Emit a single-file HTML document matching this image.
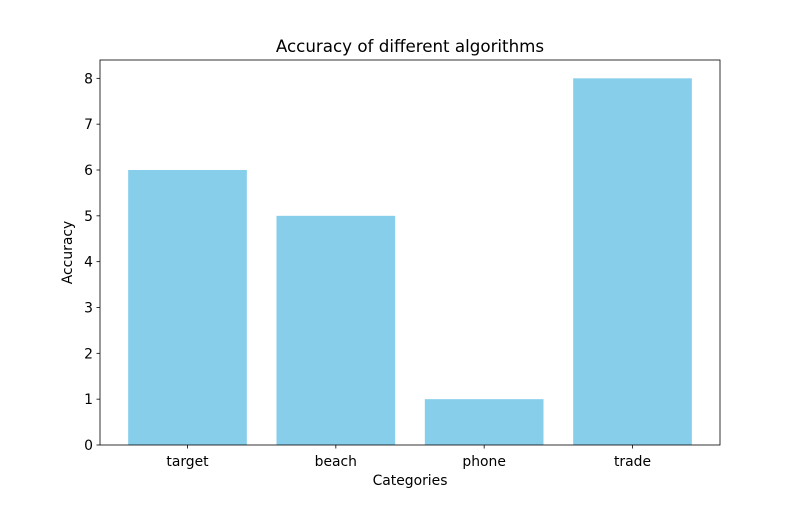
<!DOCTYPE html>
<html><head><meta charset="utf-8"><style>
body{margin:0;background:#fff;font-family:"Liberation Sans","DejaVu Sans",sans-serif;}
svg text{font-family:"DejaVu Sans","Liberation Sans",sans-serif;}
</style></head><body>
<svg id="chart" width="800" height="500" xmlns="http://www.w3.org/2000/svg">
<rect width="800" height="500" fill="#fff"/>
</svg>
<script>
const categories = ["target","beach","phone","trade"];
const values = [6,5,1,8];
const yTicks = [0,1,2,3,4,5,6,7,8];
const L=100,R=720,T=60,B=445;
const yMax=8.4, xMin=-0.59, xMax=3.59;
const ys=v=>B-(v/yMax)*(B-T);
const xs=v=>L+(v-xMin)/(xMax-xMin)*(R-L);
const svg=document.getElementById('chart');
const NS='http://www.w3.org/2000/svg';
function mk(tag,attrs,parent){const e=document.createElementNS(NS,tag);for(const k in attrs)e.setAttribute(k,attrs[k]);(parent||svg).appendChild(e);return e;}
categories.forEach((c,i)=>{
  const r=mk('rect',{x:xs(i-0.4),y:ys(values[i]),width:xs(i+0.4)-xs(i-0.4),height:B-ys(values[i]),fill:'#87ceeb'});
  
  
  mk('line',{x1:xs(i),x2:xs(i),y1:B,y2:B+3.5,stroke:'#000','stroke-width':0.8});
  const t=mk('text',{x:xs(i),y:B+21,'font-size':13.9,'text-anchor':'middle'});
  t.textContent=c;
  
  
});
yTicks.forEach(v=>{
  mk('line',{x1:L-3.5,x2:L,y1:ys(v),y2:ys(v),stroke:'#000','stroke-width':0.8});
  const t=mk('text',{x:L-7,y:ys(v)+5,'font-size':13.9,'text-anchor':'end'});
  t.textContent=v;
  
  
});
const f=mk('rect',{x:L,y:T,width:R-L,height:B-T,fill:'none',stroke:'#000','stroke-width':0.8});


const ti=mk('text',{x:(L+R)/2,y:52,'font-size':16.7,'text-anchor':'middle'});ti.textContent='Accuracy of different algorithms';


const xl=mk('text',{x:(L+R)/2,y:485,'font-size':13.9,'text-anchor':'middle'});xl.textContent='Categories';


const yl=mk('text',{x:72,y:(T+B)/2,'font-size':13.9,'text-anchor':'middle',transform:'rotate(-90 72 '+((T+B)/2)+')'});yl.textContent='Accuracy';


</script>
</body></html>
